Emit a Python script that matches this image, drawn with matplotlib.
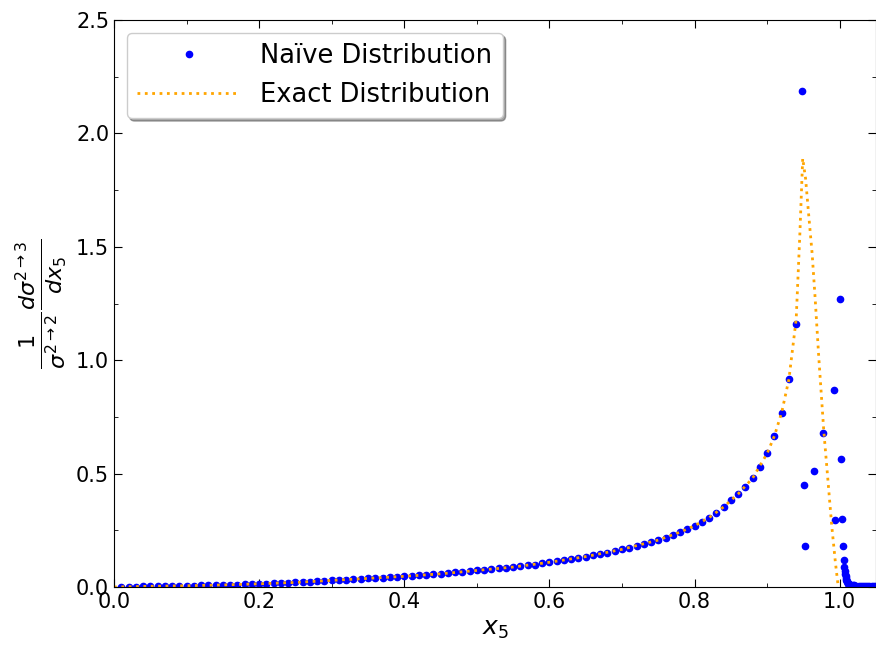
import numpy as np
import matplotlib
matplotlib.use("Agg")
import matplotlib.pyplot as plt
from matplotlib.ticker import MultipleLocator

# Naive distribution: regular bins 0.01 .. 0.94
naive_x = np.round(np.arange(1, 95) * 0.01, 2)
naive_y = [0.001, 0.0015, 0.002, 0.0025, 0.003, 0.0035, 0.004, 0.0045, 0.005, 0.0055,
           0.006, 0.007, 0.0075, 0.0085, 0.009, 0.010, 0.011, 0.012, 0.013, 0.014,
           0.015, 0.016, 0.017, 0.0185, 0.020, 0.021, 0.023, 0.025, 0.027, 0.029,
           0.031, 0.033, 0.035, 0.036, 0.038, 0.040, 0.041, 0.043, 0.045, 0.047,
           0.049, 0.051, 0.053, 0.056, 0.058, 0.061, 0.064, 0.067, 0.070, 0.073,
           0.076, 0.079, 0.082, 0.085, 0.088, 0.091, 0.095, 0.099, 0.104, 0.109,
           0.114, 0.119, 0.123, 0.129, 0.134, 0.140, 0.146, 0.152, 0.159, 0.166,
           0.173, 0.181, 0.190, 0.198, 0.207, 0.217, 0.229, 0.242, 0.256, 0.270,
           0.287, 0.306, 0.328, 0.353, 0.382, 0.410, 0.442, 0.480, 0.528, 0.589,
           0.666, 0.769, 0.916, 1.158]

# scattered naive points around the peak
peak_x = [0.948, 0.951, 0.952, 0.965, 0.977, 0.992, 0.994, 1.001, 1.002, 1.003, 1.004]
peak_y = [2.187, 0.451, 0.181, 0.513, 0.680, 0.867, 0.295, 1.270, 0.564, 0.301, 0.181]

# tail above x5 = 1
tail_x = [1.0055, 1.0065, 1.007, 1.0075, 1.008, 1.0085, 1.009, 1.0095, 1.010, 1.011,
          1.012, 1.013, 1.014, 1.016, 1.018, 1.020, 1.023, 1.026, 1.029, 1.032,
          1.035, 1.038, 1.041, 1.044, 1.047, 1.050]
tail_y = [0.119, 0.087, 0.070, 0.058, 0.048, 0.040, 0.033, 0.027, 0.022, 0.018,
          0.015, 0.012, 0.010, 0.009, 0.008, 0.007, 0.006, 0.006, 0.005, 0.005,
          0.005, 0.004, 0.004, 0.004, 0.004, 0.004]

# exact distribution
exact_x = [0.0, 0.05, 0.10, 0.15, 0.20, 0.25, 0.30, 0.35, 0.40, 0.45, 0.50, 0.55,
           0.60, 0.65, 0.70, 0.75, 0.78, 0.80, 0.82, 0.84, 0.86, 0.88, 0.90, 0.91,
           0.92, 0.93, 0.94, 0.945, 0.949, 0.953, 0.957, 0.962, 0.966, 0.971, 0.978,
           0.983, 0.989, 0.994, 0.998]
exact_y = [0.0, 0.003, 0.0055, 0.009, 0.014, 0.020, 0.029, 0.038, 0.047, 0.058, 0.073, 0.088,
           0.109, 0.134, 0.166, 0.207, 0.242, 0.270, 0.306, 0.353, 0.410, 0.480, 0.589, 0.666,
           0.769, 0.916, 1.18, 1.55, 1.89, 1.80, 1.65, 1.47, 1.28, 1.02, 0.69,
           0.50, 0.27, 0.11, 0.0]

all_x = np.concatenate([naive_x, peak_x, tail_x])
all_y = np.concatenate([naive_y, peak_y, tail_y])

fig = plt.figure(figsize=(8.76, 6.52), dpi=100)
ax = fig.add_axes([114 / 876, 65 / 652, 762 / 876, 567 / 652])

ax.plot(all_x, all_y, ".", color="blue", markersize=9, label="Naïve Distribution")
ax.plot(exact_x, exact_y, ":", color="orange", linewidth=2, label="Exact Distribution")

ax.set_xlim(0, 1.05)
ax.set_ylim(0, 2.5)
ax.xaxis.set_major_locator(MultipleLocator(0.2))
ax.xaxis.set_minor_locator(MultipleLocator(0.1))
ax.yaxis.set_major_locator(MultipleLocator(0.5))
ax.yaxis.set_minor_locator(MultipleLocator(0.25))
ax.tick_params(which="both", direction="in", top=True, right=True, labelsize=15)
ax.tick_params(which="major", length=6)
ax.tick_params(which="minor", length=3)

ax.set_xlabel(r"$x_5$", fontsize=18)
ax.set_ylabel(r"$\frac{1}{\sigma^{2\to2}}\frac{d\sigma^{2\to3}}{dx_5}$", fontsize=23)

ax.legend(loc="upper left", fontsize=18.5, shadow=True, handlelength=4)

fig.savefig("out.png", dpi=100)
